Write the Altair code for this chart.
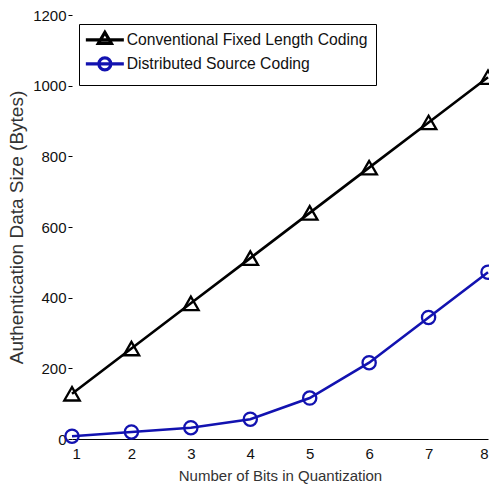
import altair as alt
import pandas as pd

bits = [1, 2, 3, 4, 5, 6, 7, 8]
conventional = [128, 256, 384, 512, 640, 768, 896, 1024]
distributed = [8, 20, 32, 56, 116, 216, 344, 472]
series_names = ["Conventional Fixed Length Coding", "Distributed Source Coding"]
series_colors = ["#000000", "#1212b0"]
y_ticks = [0, 200, 400, 600, 800, 1000, 1200]

rows = []
for b, c, d in zip(bits, conventional, distributed):
    rows.append({"bits": b, "size": c, "series": series_names[0]})
    rows.append({"bits": b, "size": d, "series": series_names[1]})
df = pd.DataFrame(rows)

FONT = "Liberation Sans"

x = alt.X("bits:Q", scale=alt.Scale(domain=[1, 8], nice=False),
          axis=alt.Axis(title="Number of Bits in Quantization", values=bits, format="d",
                        ticks=False, grid=False, labelPadding=7, titlePadding=7,
                        domainColor="#000", domainWidth=1.2,
                        labelFont=FONT, titleFont=FONT, labelFontSize=15, titleFontSize=15,
                        labelColor="#111", titleColor="#333", titleFontWeight="normal"))
y = alt.Y("size:Q", scale=alt.Scale(domain=[0, 1200], nice=False),
          axis=alt.Axis(title="Authentication Data Size (Bytes)", values=y_ticks, format="d",
                        domain=False, grid=False, tickSize=4, tickColor="#000",
                        labelPadding=2, titlePadding=6,
                        labelFont=FONT, titleFont=FONT, labelFontSize=15, titleFontSize=19,
                        labelColor="#111", titleColor="#333", titleFontWeight="normal"))
color = alt.Color("series:N", scale=alt.Scale(domain=series_names, range=series_colors), legend=None)

lines = alt.Chart(df).mark_line(strokeWidth=2.6).encode(x=x, y=y, color=color)

points = alt.Chart(df).mark_point(filled=False, strokeWidth=2.3, opacity=1).encode(
    x=x, y=y, color=color,
    shape=alt.Shape("series:N", scale=alt.Scale(domain=series_names, range=["triangle-up", "circle"]), legend=None),
    size=alt.Size("series:N", scale=alt.Scale(domain=series_names, range=[240, 175]), legend=None),
)

tri_path = "M-3.8,0H3.8M0,-1.5L1.3,0.7L-1.3,0.7Z"
circ_path = "M-3.8,0H3.8M1.2,0A1.2,1.2 0 1,1 -1.2,0A1.2,1.2 0 1,1 1.2,0Z"

leg = dict(title=None, orient="none", legendX=7, legendY=9,
           strokeColor="#000", fillColor="#fff", padding=8,
           symbolSize=100, symbolStrokeWidth=3.2, symbolOpacity=1,
           symbolFillColor="transparent",
           symbolOffset=10, labelOffset=14, rowPadding=1,
           labelFont=FONT, labelFontSize=15.7, labelColor="#111",
           labelLimit=400)

legend_layer = alt.Chart(df).mark_point(filled=False, opacity=0, size=0).encode(
    x=x, y=y,
    stroke=alt.Stroke("series:N", scale=alt.Scale(domain=series_names, range=series_colors),
                      legend=alt.Legend(**leg)),
    shape=alt.Shape("series:N", scale=alt.Scale(domain=series_names, range=[tri_path, circ_path]),
                    legend=alt.Legend(**leg)),
)

chart = alt.layer(lines, points, legend_layer).resolve_scale(
    shape="independent", color="independent", size="independent", stroke="independent"
).properties(
    width=416, height=424,
    padding={"left": 72, "top": 15, "right": 1, "bottom": 50},
    autosize=alt.AutoSizeParams(type="none"),
    background="#ffffff",
).configure_view(stroke=None)

chart.save("out.html", embed_options={"renderer": "svg", "actions": False})
